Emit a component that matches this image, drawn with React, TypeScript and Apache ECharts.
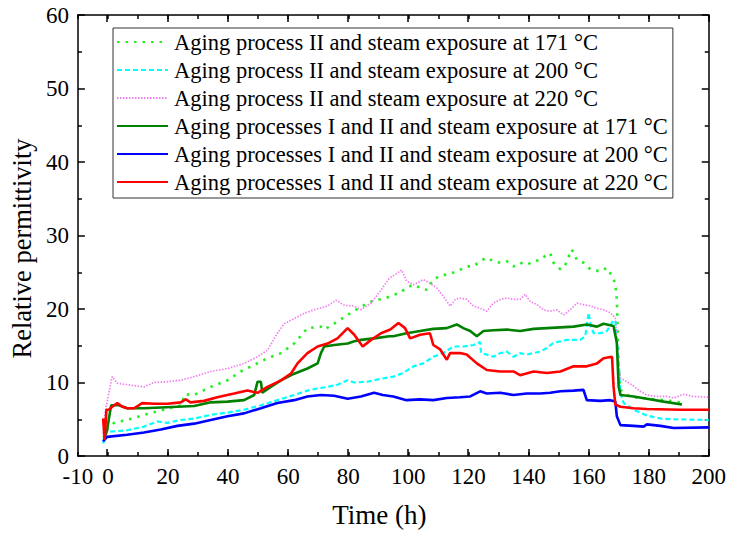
import React, { useEffect, useRef } from "react";
import * as echarts from "echarts";

type Pt = [number, number];

// Time (h) / relative permittivity readings for each sample
const steam171II: Pt[] = [[-1.5,2.5],[0,3.8],[2,4.5],[5,4.8],[8,5.1],[12,5.6],[17.6,6.2],[22,6.7],[24.5,6.9],[25.5,8.4],[28.7,8.3],[34.2,9.4],[39.8,10.3],[44.2,11.5],[48.7,12.4],[53.1,13.3],[57.6,14],[62,15.3],[66.4,17.4],[70.9,17.6],[72,17.2],[75.3,18],[79.8,19.2],[84.2,20.3],[88.6,21.2],[92,21.4],[95,21.9],[97.2,22.2],[99.4,22.9],[101.7,23.3],[103.9,22.9],[106.1,22.6],[108.3,24],[110.6,24.5],[112.8,24.7],[116.1,25.1],[119.4,25.8],[121.7,25.8],[123.9,26.5],[126.1,27],[128.3,26.5],[130.6,26.3],[132.8,26.5],[135,25.8],[137.2,26.3],[139.4,26],[141.7,26.5],[143.9,26.7],[146.1,27.4],[147.2,27.6],[148.3,26.3],[150.6,25.4],[152.2,26],[154.4,28.1],[156.1,26.7],[158.3,26.3],[160.6,25.4],[163.9,25.1],[166.1,25.6],[167.8,24.5],[168.9,23.5],[169.4,21.3],[169.7,16.7],[170,12.2],[170.6,9],[172.8,8.3],[175,8],[179.4,7.8],[185,7.6],[190.6,7.3]];

const steam200II: Pt[] = [[-1.6,1.7],[-1,3.1],[0.3,3.3],[6.4,3.5],[12,4],[16.4,4.7],[19.8,4.5],[24.2,4.9],[28.7,5.1],[34.2,5.6],[39.7,5.9],[45.3,6.3],[50.9,6.9],[56.4,7.6],[62,8.3],[66.4,8.9],[69.8,9.2],[73.1,9.4],[76.4,9.7],[79.8,10.3],[82,10],[86.4,10.1],[90.8,10.5],[95,10.8],[98.3,11.3],[101.7,12.2],[105,12.6],[108.3,13.5],[111.7,14],[115,14.9],[118.3,14.9],[121.7,15.1],[123.9,15.5],[124.2,14],[126.1,13.8],[128.3,13.5],[130.6,14],[132.8,14.2],[135,13.5],[137.2,14],[139.4,13.8],[141.7,14],[143.9,14.2],[146.1,14.7],[148.3,15.4],[150.6,15.6],[152.8,15.8],[155,15.8],[157.2,15.8],[158.9,16.3],[160,19.5],[160.8,17.6],[161.7,16.7],[163.9,16.7],[166.1,17],[168.3,18.5],[168.9,18.3],[170,13],[170.6,8.5],[171.7,7.2],[175,6.3],[179.4,5.5],[183.9,5.1],[188.3,5],[200,4.9]];

const steam220II: Pt[] = [[-1.6,3],[-1,5.8],[0.5,9],[1.4,10.8],[3.1,9.9],[6.4,9.7],[12,9.4],[15.3,10],[19.8,10.1],[24.2,10.3],[28.7,10.8],[34.2,11.5],[39.8,11.9],[45.3,12.6],[49.8,13.5],[53.1,14.4],[56.4,16.7],[58.7,18],[62,18.7],[65.3,19.4],[68.7,19.9],[73.1,20.4],[75.9,21.2],[78.7,20.5],[82,20.4],[84.2,19.9],[87.6,20.8],[90.9,22.6],[93.7,24.2],[96,24.8],[97.8,25.3],[99.4,23.8],[101.7,23.3],[105,24],[107.2,23.5],[109.4,22.9],[111.7,21.7],[113.9,20.4],[115.6,21.3],[117.2,21.5],[119.4,21.3],[121.7,20.4],[123.9,20.1],[126.1,19.7],[128.3,20.8],[130.6,21.3],[132.8,21.5],[135,21.3],[137.2,21.3],[138.9,22],[140.6,21],[142.8,20.6],[145,19.9],[147.2,19.7],[149.4,19.9],[151.7,19.2],[153.9,19.9],[156.1,20.8],[158.3,20.6],[160.6,20.4],[162.8,20.1],[165,19.9],[167.2,19.5],[168.9,18.8],[170,12.2],[170.6,10.6],[172.8,10.1],[175,9.5],[177.2,8.8],[179.4,8.3],[182.8,8.1],[186.1,8.1],[188.3,7.9],[191.7,8.4],[195,8.1],[200,8]];

const steam171I_II: Pt[] = [[-1.3,2.2],[-0.3,3.5],[0.6,5.8],[1.1,6.9],[3.7,6.9],[6.4,6.5],[12,6.5],[17.6,6.6],[23.1,6.7],[28.7,6.8],[34.2,7.3],[39.8,7.4],[45.3,7.6],[48.7,8.3],[49.8,10.1],[50.9,10.1],[51.4,8.6],[54.2,9.4],[57.6,10.3],[62,11.2],[66.4,11.9],[69.8,12.6],[70.9,14],[72,14.9],[75.3,15.1],[79.8,15.3],[82,15.6],[84.2,15.8],[88.6,16],[93.7,16.3],[95,16.3],[99.4,16.7],[103.9,17],[108.3,17.3],[112.8,17.4],[116.1,17.9],[118.3,17.4],[120.6,17],[122.8,16.3],[125,17],[128.3,17.1],[132.8,17.2],[137.2,17],[141.7,17.3],[146.1,17.4],[150.6,17.5],[155,17.6],[159.4,17.9],[162.8,17.6],[165,18],[168.3,17.7],[169.4,15.4],[170,9.5],[170.6,8.3],[175,8.1],[179.4,7.8],[185,7.4],[191.1,7]];

const steam200I_II: Pt[] = [[-1.6,2],[-0.3,2.6],[6.4,2.9],[12,3.2],[17.6,3.6],[23.1,4.1],[28.7,4.4],[34.2,4.9],[39.8,5.4],[45.3,5.8],[50.9,6.5],[56.4,7.2],[62,7.6],[66.4,8.1],[70.9,8.3],[75.3,8.2],[79.8,7.8],[84.2,8.1],[88.6,8.6],[91.5,8.3],[95,8.1],[99.4,7.6],[103.9,7.7],[108.3,7.6],[112.8,7.9],[117.2,8],[120.6,8.1],[123.9,8.8],[126.1,8.5],[130.6,8.6],[135,8.3],[139.4,8.5],[143.9,8.5],[147.2,8.6],[150.6,8.8],[155,8.9],[158.3,9],[159.4,7.6],[163.9,7.5],[167.2,7.6],[168.9,7.4],[169.4,5.4],[170.6,4.2],[175,4.1],[178.3,4],[179.4,4.3],[183.9,4.1],[188.3,3.8],[200,3.9]];

const steam220I_II: Pt[] = [[-1.6,5.1],[-1.1,2.2],[-0.5,6.3],[0.3,6.3],[1.4,6.7],[3.1,7.2],[4.8,6.7],[6.4,6.5],[8.7,6.5],[11.4,7.2],[15.3,7.1],[19.8,7.1],[24.2,7.3],[25.9,7.7],[27.5,7.3],[32,7.5],[36.4,8],[42,8.5],[46.4,8.9],[49.8,8.6],[53.1,9.4],[57.6,10.3],[60.9,11.2],[63.1,12.6],[66.4,14],[69.8,14.9],[73.1,15.3],[76.4,16],[79.8,17.4],[82,16.5],[84.8,14.9],[87.6,15.8],[90.9,16.7],[94,17.2],[96.7,18.1],[98.9,17.4],[100.6,16],[103.9,16.5],[107.2,16.7],[108.3,15.1],[110.6,14.5],[112.8,13.1],[113.9,14],[117.2,14],[119.4,13.8],[122.8,12.6],[126.1,11.7],[130.6,11.5],[135,11.5],[137.2,11],[141.7,11.5],[146.1,11.3],[150.6,11.5],[155,12.2],[159.4,12.2],[162.8,12.6],[165,13.3],[167.8,13.5],[168.3,9.5],[168.9,7],[170.6,6.7],[175,6.5],[179.4,6.4],[190.6,6.3],[200,6.3]];

const seriesNames = [
  "Aging process II and steam exposure at 171 °C",
  "Aging process II and steam exposure at 200 °C",
  "Aging process II and steam exposure at 220 °C",
  "Aging processes I and II and steam exposure at 171 °C",
  "Aging processes I and II and steam exposure at 200 °C",
  "Aging processes I and II and steam exposure at 220 °C",
];
const seriesData = [steam171II, steam200II, steam220II, steam171I_II, steam200I_II, steam220I_II];
const seriesColors = ["#22ee22", "#00ffff", "#f080f0", "#008000", "#0000ff", "#ff0000"];
const seriesDash: (number[] | "solid")[] = [[2.5, 6], [5, 3], [1.5, 1.5], "solid", "solid", "solid"];
const seriesWidth = [2.6, 2.2, 1.7, 2.6, 2.6, 2.6];

const X_MIN = -10;
const X_MAX = 200;
const Y_MIN = 0;
const Y_MAX = 60;

const FONT = "'Liberation Serif', 'Times New Roman', serif";

export default function App() {
  const ref = useRef<HTMLDivElement>(null);

  useEffect(() => {
    if (!ref.current) return;
    document.body.style.margin = "0";
    const chart = echarts.init(ref.current, undefined, { renderer: "svg" });

    const axisLine = { show: true, onZero: false, lineStyle: { color: "#000", width: 1.5 } };
    const tickStyle = { color: "#000", width: 1.5 };
    const left = 77;
    const right = 20;
    const top = 15;
    const bottom = 80;
    // offset of x = 0 from the left frame, so the long ticks land on multiples of 20
    const zeroOffset = ((0 - X_MIN) / (X_MAX - X_MIN)) * (729 - left - right);

    chart.setOption({
      animation: false,
      backgroundColor: "#fff",
      grid: [
        { left, right, top, bottom },
        { left: left + zeroOffset, right, top, bottom },
      ],
      legend: {
        orient: "vertical",
        left: 113,
        top: 28,
        padding: [2, 5, 4, 3],
        itemGap: 4,
        itemWidth: 51,
        itemHeight: 14,
        borderColor: "#333",
        borderWidth: 1,
        itemStyle: { opacity: 0 },
        textStyle: { fontFamily: FONT, fontSize: 22.5, color: "#000", lineHeight: 24, padding: [0, 0, 0, 1] },
        data: seriesNames,
      },
      xAxis: [
        {
          type: "value",
          gridIndex: 0,
          min: X_MIN,
          max: X_MAX,
          interval: 10,
          position: "bottom",
          name: "Time (h)",
          nameLocation: "middle",
          nameGap: 45,
          nameTextStyle: { fontFamily: FONT, fontSize: 27, color: "#000", padding: [0, 28, 0, 0] },
          axisLine,
          axisTick: { show: true, inside: true, length: 4, lineStyle: tickStyle },
          axisLabel: {
            fontFamily: FONT,
            fontSize: 23,
            color: "#000",
            margin: 9,
            formatter: (v: number) => (v === X_MIN || v % 20 === 0 ? String(v) : ""),
          },
          splitLine: { show: false },
        },
        {
          type: "value",
          gridIndex: 0,
          min: X_MIN,
          max: X_MAX,
          interval: 10,
          position: "top",
          axisLine,
          axisTick: { show: true, inside: true, length: 4, lineStyle: tickStyle },
          axisLabel: { show: false },
          splitLine: { show: false },
        },
        {
          type: "value",
          gridIndex: 1,
          min: 0,
          max: X_MAX,
          interval: 20,
          position: "bottom",
          axisLine: { show: false },
          axisTick: { show: true, inside: true, length: 7, lineStyle: tickStyle },
          axisLabel: { show: false },
          splitLine: { show: false },
        },
        {
          type: "value",
          gridIndex: 1,
          min: 0,
          max: X_MAX,
          interval: 20,
          position: "top",
          axisLine: { show: false },
          axisTick: { show: true, inside: true, length: 7, lineStyle: tickStyle },
          axisLabel: { show: false },
          splitLine: { show: false },
        },
      ],
      yAxis: [
        {
          type: "value",
          gridIndex: 0,
          min: Y_MIN,
          max: Y_MAX,
          interval: 10,
          position: "left",
          name: "Relative permittivity",
          nameLocation: "middle",
          nameGap: 42,
          nameTextStyle: { fontFamily: FONT, fontSize: 26.5, color: "#000", padding: [0, 26, 0, 0] },
          axisLine,
          axisTick: { show: true, inside: true, length: 7, lineStyle: tickStyle },
          minorTick: { show: true, splitNumber: 2, length: 4, lineStyle: tickStyle },
          axisLabel: { fontFamily: FONT, fontSize: 23, color: "#000", margin: 9 },
          splitLine: { show: false },
          minorSplitLine: { show: false },
        },
        {
          type: "value",
          gridIndex: 0,
          min: Y_MIN,
          max: Y_MAX,
          interval: 10,
          position: "right",
          axisLine,
          axisTick: { show: true, inside: true, length: 7, lineStyle: tickStyle },
          minorTick: { show: true, splitNumber: 2, length: 4, lineStyle: tickStyle },
          axisLabel: { show: false },
          splitLine: { show: false },
          minorSplitLine: { show: false },
        },
        {
          type: "value",
          gridIndex: 1,
          min: Y_MIN,
          max: Y_MAX,
          show: false,
        },
      ],
      series: seriesNames.map((name, i) => ({
        name,
        type: "line",
        xAxisIndex: 0,
        yAxisIndex: 0,
        data: seriesData[i],
        showSymbol: false,
        symbol: "none",
        smooth: false,
        color: seriesColors[i],
        lineStyle: { color: seriesColors[i], width: seriesWidth[i], type: seriesDash[i] },
        z: 2 + i,
      })),
    });

    return () => chart.dispose();
  }, []);

  return <div ref={ref} style={{ width: 729, height: 536 }} />;
}
